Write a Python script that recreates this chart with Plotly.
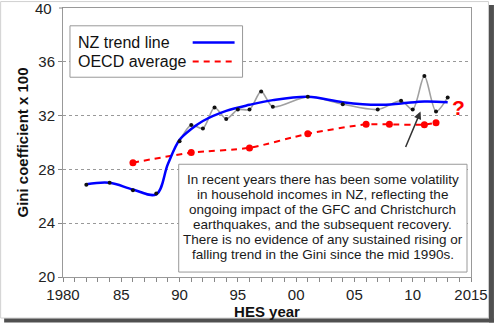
import plotly.graph_objects as go

# NZ Gini (HES) observed
nz_years = [1982, 1984, 1986, 1988, 1990, 1991, 1992, 1993, 1994, 1995, 1996, 1997, 1998,
            2001, 2004, 2007, 2009, 2010, 2011, 2012, 2013]
nz_gini = [26.85, 27.0, 26.45, 26.2, 30.1, 31.3, 31.05, 32.6, 31.75, 32.45, 32.45, 33.8, 32.65,
           33.4, 32.85, 32.45, 33.1, 32.45, 34.95, 32.3, 33.35]

# NZ trend line
trend_years = [1982, 1984, 1986, 1988, 1989, 1990, 1991, 1992, 1994, 1996, 1998, 2001, 2004,
               2007, 2009, 2011, 2013]
trend_vals = [26.9, 27.0, 26.5, 26.15, 28.4, 30.2, 31.0, 31.6, 32.35, 32.8, 33.15, 33.4, 33.0,
              32.8, 32.9, 33.05, 33.0]

# OECD average
oecd_years = [1986, 1991, 1996, 2001, 2006, 2008, 2011, 2012]
oecd_vals = [28.5, 29.25, 29.6, 30.65, 31.35, 31.35, 31.32, 31.47]

x_tickvals = [1980, 1985, 1990, 1995, 2000, 2005, 2010, 2015]
x_ticktext = ["1980", "85", "90", "95", "00", "05", "10", "2015"]
y_tickvals = [20, 24, 28, 32, 36]
y_top_label = "40"

text_lines = [
    "In recent years there has been some volatility",
    "in household incomes in NZ, reflecting the",
    "ongoing impact of the GFC and Christchurch",
    "earthquakes, and the subsequent recovery.",
    "There is no evidence of any sustained rising or",
    "falling trend in the Gini since the mid 1990s.",
]

FONT = "Arial, Liberation Sans, sans-serif"
W, H = 495, 325
L, R, T, B = 63, 23, 7, 46
PW, PH = W - L - R, H - T - B


def px(xp):
    return (xp - L) / PW


def py(yp):
    return (H - B - yp) / PH


# gray observed line drawn from 1990 on (earlier points lie under the trend)
line_start = nz_years.index(1990)

fig = go.Figure()

fig.add_trace(go.Scatter(x=nz_years[line_start:], y=nz_gini[line_start:], mode="lines",
                         line=dict(color="#a0a0a0", width=1.6, shape="spline", smoothing=0.8),
                         showlegend=False, hoverinfo="skip"))
fig.add_trace(go.Scatter(x=oecd_years, y=oecd_vals, mode="lines+markers",
                         line=dict(color="#ff0000", width=2, dash="6px,5px", shape="spline", smoothing=0.6),
                         marker=dict(color="#ff0000", size=7),
                         name="OECD average", showlegend=False))
fig.add_trace(go.Scatter(x=trend_years, y=trend_vals, mode="lines",
                         line=dict(color="#0000ff", width=2.5, shape="spline", smoothing=1.0),
                         name="NZ trend line", showlegend=False))
fig.add_trace(go.Scatter(x=nz_years, y=nz_gini, mode="markers",
                         marker=dict(color="#111111", size=4),
                         showlegend=False))

shapes = []
annotations = []

# legend box
shapes.append(dict(type="rect", xref="paper", yref="paper",
                   x0=px(70), x1=px(243), y0=py(77), y1=py(25),
                   line=dict(color="#999999", width=1), fillcolor="white", layer="above"))
shapes.append(dict(type="line", xref="paper", yref="paper",
                   x0=px(193), x1=px(235), y0=py(42), y1=py(42),
                   line=dict(color="#0000ff", width=2.5), layer="above"))
shapes.append(dict(type="line", xref="paper", yref="paper",
                   x0=px(193), x1=px(237), y0=py(61), y1=py(61),
                   line=dict(color="#ff0000", width=2, dash="6px,5px"), layer="above"))
annotations.append(dict(xref="paper", yref="paper", x=px(76), y=py(42), xanchor="left", yanchor="middle",
                        text="NZ trend line", showarrow=False, font=dict(family=FONT, size=16, color="#111")))
annotations.append(dict(xref="paper", yref="paper", x=px(76), y=py(61), xanchor="left", yanchor="middle",
                        text="OECD average", showarrow=False, font=dict(family=FONT, size=16, color="#111")))

# text box
shapes.append(dict(type="rect", xref="paper", yref="paper",
                   x0=px(179), x1=px(468), y0=py(274), y1=py(165),
                   line=dict(color="#999999", width=1), fillcolor="white", layer="above"))
line_ys = [180, 195.3, 210.6, 225.9, 241.2, 256.5]
for t, yy in zip(text_lines, line_ys):
    annotations.append(dict(xref="paper", yref="paper", x=px(323.5), y=py(yy),
                            xanchor="center", yanchor="middle", text=t, showarrow=False,
                            font=dict(family=FONT, size=13.5, color="#1a1a1a")))

# top y tick label (drawn as annotation so it is not clipped)
annotations.append(dict(xref="paper", yref="y", x=px(54), y=40, xanchor="right", yanchor="middle",
                        text=y_top_label, showarrow=False, font=dict(family=FONT, size=15, color="#222")))
shapes.append(dict(type="line", xref="paper", yref="paper", x0=px(59), x1=px(63), y0=1, y1=1,
                   line=dict(color="#888", width=1)))

# arrow
annotations.append(dict(x=2010.67, y=32.3, ax=2009.34, ay=29.56, axref="x", ayref="y",
                        xref="x", yref="y", text="", showarrow=True, arrowhead=2,
                        arrowsize=1, arrowwidth=1.5, arrowcolor="#333333"))
# question mark
annotations.append(dict(x=2013.96, y=32.57, xref="x", yref="y", text="<b>?</b>", showarrow=False,
                        font=dict(family=FONT, size=21, color="#ff0000")))

# outer frame
shapes.append(dict(type="rect", xref="paper", yref="paper",
                   x0=px(0.5), x1=px(489.5), y0=py(320.5), y1=py(0.5),
                   line=dict(color="#d0d0d0", width=1), layer="above"))
shapes.append(dict(type="rect", xref="paper", yref="paper",
                   x0=px(490), x1=px(495), y0=py(325), y1=py(4),
                   line=dict(width=0), fillcolor="#505050", layer="above"))
shapes.append(dict(type="rect", xref="paper", yref="paper",
                   x0=px(4), x1=px(495), y0=py(325), y1=py(321),
                   line=dict(width=0), fillcolor="#505050", layer="above"))

fig.update_layout(
    width=W, height=H,
    margin=dict(l=L, r=R, t=T, b=B, pad=0),
    paper_bgcolor="white", plot_bgcolor="white",
    font=dict(family=FONT, color="#222"),
    shapes=shapes, annotations=annotations,
    showlegend=False,
)
fig.update_xaxes(range=[1980, 2015], tickvals=x_tickvals, ticktext=x_ticktext,
                 ticks="outside", ticklen=4, tickcolor="#888", tickwidth=1,
                 minor=dict(dtick=1, tick0=1980, ticks="outside", ticklen=4, tickcolor="#888"),
                 showgrid=False, zeroline=False,
                 showline=True, linecolor="#999", linewidth=1, mirror=True,
                 tickfont=dict(family=FONT, size=15, color="#222"),
                 title=dict(text="<b>HES year</b>", font=dict(family=FONT, size=15, color="#111"), standoff=4))
fig.update_yaxes(range=[20, 40], tickvals=y_tickvals,
                 ticks="outside", ticklen=4, tickcolor="#888", tickwidth=1,
                 showgrid=True, gridcolor="#999", griddash="dot", gridwidth=1, zeroline=False,
                 showline=True, linecolor="#999", linewidth=1, mirror=True,
                 tickfont=dict(family=FONT, size=15, color="#222"),
                 title=dict(text="<b>Gini coefficient x 100</b>", font=dict(family=FONT, size=15, color="#111"), standoff=6))

fig.write_html("out.html")
